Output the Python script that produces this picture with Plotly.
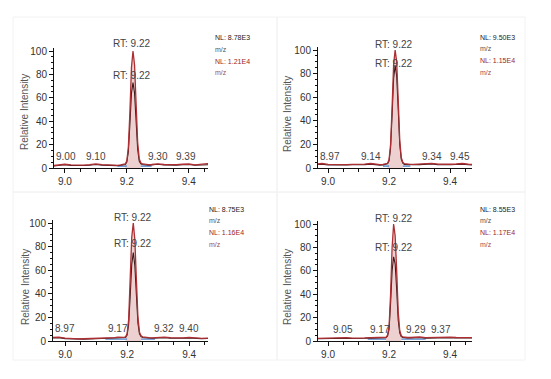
import plotly.graph_objects as go

W, H = 551, 379

# ---------------- data ----------------
time_min = [8.96, 8.98, 9.00, 9.02, 9.04, 9.06, 9.08, 9.10, 9.12, 9.14, 9.16, 9.17, 9.18, 9.19,
            9.195, 9.20, 9.205, 9.21, 9.215, 9.22, 9.225, 9.23, 9.235, 9.24, 9.245, 9.25, 9.26,
            9.27, 9.28, 9.30, 9.32, 9.34, 9.36, 9.38, 9.40, 9.42, 9.44, 9.46, 9.48]

red_1 = [2.0, 2.5, 3.2, 2.6, 2.3, 2.5, 2.8, 3.5, 2.9, 2.4, 2.2, 2.3, 2.6, 3.0,
         3.5, 6.0, 18, 48, 86, 100, 88, 55, 22, 8.0, 4.5, 3.5, 3.0,
         2.8, 3.0, 3.6, 3.0, 2.6, 2.8, 3.2, 3.4, 2.6, 3.0, 3.8, 3.2]
dark_1 = [1.5, 2.0, 2.8, 2.2, 2.0, 2.2, 2.4, 3.0, 2.5, 2.1, 1.9, 2.0, 2.3, 2.6,
          3.0, 5.0, 14, 38, 64, 73, 64, 40, 16, 6.0, 3.5, 3.0, 2.6,
          2.4, 2.6, 3.2, 2.7, 2.3, 2.5, 2.9, 3.0, 2.3, 2.7, 3.3, 2.9]

red_2 = [3.2, 3.8, 3.0, 2.8, 2.6, 2.9, 3.1, 3.0, 3.3, 3.8, 3.0, 2.8, 3.0, 3.4,
         4.0, 7.0, 20, 52, 88, 100, 90, 58, 24, 9.0, 5.0, 3.6, 3.2,
         3.0, 3.1, 3.3, 3.4, 4.0, 3.3, 3.0, 3.2, 3.4, 3.8, 3.2, 3.0]
dark_2 = [2.8, 3.3, 2.6, 2.4, 2.3, 2.5, 2.7, 2.6, 2.9, 3.3, 2.6, 2.4, 2.6, 3.0,
          3.6, 6.0, 17, 45, 76, 87, 78, 50, 20, 7.5, 4.2, 3.1, 2.8,
          2.6, 2.7, 2.9, 3.0, 3.5, 2.9, 2.6, 2.8, 3.0, 3.3, 2.8, 2.6]

red_3 = [3.0, 3.2, 2.4, 2.0, 1.8, 1.9, 2.0, 2.2, 2.4, 2.6, 2.8, 3.2, 2.8, 3.0,
         3.5, 6.0, 18, 50, 88, 100, 86, 52, 20, 7.5, 4.5, 3.5, 3.0,
         2.8, 2.7, 2.9, 3.3, 2.8, 2.6, 2.7, 3.0, 2.5, 2.3, 2.4, 2.2]
dark_3 = [2.6, 2.8, 2.0, 1.7, 1.5, 1.6, 1.7, 1.9, 2.1, 2.3, 2.4, 2.8, 2.4, 2.6,
          3.0, 5.0, 14, 38, 65, 75, 64, 39, 15, 6.0, 3.8, 3.0, 2.6,
          2.4, 2.3, 2.5, 2.9, 2.4, 2.2, 2.3, 2.6, 2.1, 2.0, 2.1, 1.9]

red_4 = [2.2, 2.4, 2.3, 2.2, 2.4, 2.8, 2.5, 2.3, 2.6, 2.8, 3.0, 3.3, 2.9, 3.2,
         5.0, 12, 40, 80, 100, 90, 60, 25, 9.0, 4.5, 3.6, 3.2, 3.0,
         3.0, 3.2, 3.4, 2.9, 3.0, 3.4, 3.8, 3.3, 3.0, 3.1, 3.2, 2.9]
dark_4 = [1.9, 2.1, 2.0, 1.9, 2.1, 2.4, 2.2, 2.0, 2.3, 2.5, 2.6, 2.9, 2.5, 2.8,
          4.2, 10, 32, 60, 72, 66, 44, 18, 7.0, 3.8, 3.1, 2.8, 2.6,
          2.6, 2.8, 3.0, 2.5, 2.6, 3.0, 3.3, 2.9, 2.6, 2.7, 2.8, 2.5]

red_series = [red_1, red_2, red_3, red_4]
dark_series = [dark_1, dark_2, dark_3, dark_4]

peak_rt_labels = ["RT: 9.22", "RT: 9.22", "RT: 9.22", "RT: 9.22"]
peak_rt = [9.22, 9.22, 9.22, 9.22]
minor_peak_rts = [[9.00, 9.10, 9.30, 9.39],
                  [8.97, 9.14, 9.34, 9.45],
                  [8.97, 9.17, 9.32, 9.40],
                  [9.05, 9.17, 9.29, 9.37]]
nl_top = ["NL: 8.78E3", "NL: 9.50E3", "NL: 8.75E3", "NL: 8.55E3"]
nl_bottom = ["NL: 1.21E4", "NL: 1.15E4", "NL: 1.16E4", "NL: 1.17E4"]
mz_label = "m/z"
y_title = "Relative Intensity"
x_tick_vals = [9.0, 9.2, 9.4]
x_tick_text = ["9.0", "9.2", "9.4"]
y_tick_vals = [0, 20, 40, 60, 80, 100]
integration_window = [[9.195, 9.245], [9.195, 9.245], [9.195, 9.245], [9.19, 9.24]]
baseline_marks = [[[9.17, 9.20], [9.245, 9.28]],
                  [[9.18, 9.20], [9.245, 9.27]],
                  [[9.13, 9.20], [9.245, 9.29]],
                  [[9.13, 9.19], [9.24, 9.32]]]

# ---------------- layout geometry (pixels) ----------------
panels = [
    dict(px=(54, 208), py=(168, 47.5), xr=[8.965, 9.462], rt_y=(106, 79), lab_y=10,
         nl_x=213, nl_y=37.5, ytitle=(25, 112), box=(13, 17, 277, 192)),
    dict(px=(318, 472), py=(168, 46.5), xr=[8.967, 9.472], rt_y=(105, 89), lab_y=10,
         nl_x=478, nl_y=37, ytitle=(287, 114), box=(277, 17, 525, 192)),
    dict(px=(53, 208), py=(341, 219.5), xr=[8.961, 9.461], rt_y=(105, 83), lab_y=11,
         nl_x=207, nl_y=209, ytitle=(25, 287), box=(13, 192, 277, 360)),
    dict(px=(318, 472), py=(341, 220.5), xr=[8.967, 9.472], rt_y=(105, 80), lab_y=10,
         nl_x=478, nl_y=209, ytitle=(287, 287), box=(277, 192, 525, 360)),
]

RED = "#ad2f33"
DARK = "#3b1a1c"
FILL = "rgba(214,150,150,0.45)"
BLUE = "rgba(70,125,200,0.75)"
TXT = "#444444"
FONT = "Liberation Sans, Arial, sans-serif"
YTOP = 103

fig = go.Figure()
annotations = []
shapes = []
layout_axes = {}

for i, p in enumerate(panels):
    n = i + 1
    xa = "x" if n == 1 else f"x{n}"
    ya = "y" if n == 1 else f"y{n}"
    t = time_min
    red = red_series[i]
    dark = dark_series[i]

    w0, w1 = integration_window[i]
    fx = [tt for tt in t if w0 <= tt <= w1]
    fy = [v for tt, v in zip(t, red) if w0 <= tt <= w1]
    fig.add_trace(go.Scatter(x=fx, y=fy, mode="lines", line=dict(width=0),
                             fill="tozeroy", fillcolor=FILL, xaxis=xa, yaxis=ya,
                             showlegend=False, hoverinfo="skip"))
    for seg in baseline_marks[i]:
        fig.add_trace(go.Scatter(x=seg, y=[1.6, 1.6], mode="lines",
                                 line=dict(color=BLUE, width=1.6),
                                 xaxis=xa, yaxis=ya, showlegend=False, hoverinfo="skip"))
    fig.add_trace(go.Scatter(x=t, y=dark, mode="lines", line=dict(color=DARK, width=1.1),
                             xaxis=xa, yaxis=ya, showlegend=False))
    fig.add_trace(go.Scatter(x=t, y=red, mode="lines", line=dict(color=RED, width=1.3),
                             xaxis=xa, yaxis=ya, showlegend=False))

    x0, x1 = p["px"]
    yb, yt = p["py"]
    key_x = "xaxis" if n == 1 else f"xaxis{n}"
    key_y = "yaxis" if n == 1 else f"yaxis{n}"
    layout_axes[key_x] = dict(
        domain=[x0 / W, x1 / W], range=p["xr"], anchor=ya, automargin=False,
        showline=True, linecolor="#111", linewidth=1, ticks="outside", ticklen=4,
        tickcolor="#111", tickvals=x_tick_vals, ticktext=x_tick_text,
        minor=dict(dtick=0.05, tick0=9.0, ticks="outside", ticklen=2.5, tickcolor="#111"),
        showgrid=False, zeroline=False,
        tickfont=dict(family=FONT, size=10, color="#333"),
    )
    layout_axes[key_y] = dict(
        domain=[1 - yb / H, 1 - yt / H], range=[0, YTOP], anchor=xa, automargin=False,
        showline=True, linecolor="#111", linewidth=1, ticks="outside", ticklen=4,
        tickcolor="#111", tickvals=y_tick_vals,
        minor=dict(dtick=5, tick0=0, ticks="outside", ticklen=2, tickcolor="#111"),
        showgrid=False, zeroline=False,
        tickfont=dict(family=FONT, size=10, color="#333"),
    )

    def px_x(v):
        return (x0 + (v - p["xr"][0]) / (p["xr"][1] - p["xr"][0]) * (x1 - x0)) / W

    def px_y(v):
        return 1 - (yb - v / YTOP * (yb - yt)) / H

    for yv in p["rt_y"]:
        annotations.append(dict(x=px_x(peak_rt[i] - 0.004), y=px_y(yv), xref="paper", yref="paper",
                                text=peak_rt_labels[i], showarrow=False,
                                font=dict(family=FONT, size=10, color=TXT),
                                xanchor="center", yanchor="middle"))
    xr = p["xr"]
    for rt in minor_peak_rts[i]:
        xpos = min(max(rt, xr[0] + 0.04), xr[1] - 0.04)
        annotations.append(dict(x=px_x(xpos), y=px_y(p["lab_y"]), xref="paper", yref="paper",
                                text=f"{rt:.2f}", showarrow=False,
                                font=dict(family=FONT, size=10, color=TXT),
                                xanchor="center", yanchor="middle"))
    lines = [(nl_top[i], "#222"), (mz_label, "#555"), (nl_bottom[i], "#9c1f25"), (mz_label, "#9c5055")]
    for k, (txt, col) in enumerate(lines):
        annotations.append(dict(x=p["nl_x"] / W, y=1 - (p["nl_y"] + 11.8 * k) / H,
                                xref="paper", yref="paper", text=txt, showarrow=False,
                                font=dict(family=FONT, size=7, color=col),
                                xanchor="left", yanchor="middle"))
    tx, ty = p["ytitle"]
    annotations.append(dict(x=tx / W, y=1 - ty / H, xref="paper", yref="paper", text=y_title,
                            showarrow=False, textangle=-90,
                            font=dict(family=FONT, size=10, color="#555"),
                            xanchor="center", yanchor="middle"))
    bx0, by0, bx1, by1 = p["box"]
    shapes.append(dict(type="rect", xref="paper", yref="paper",
                       x0=bx0 / W, x1=bx1 / W, y0=1 - by1 / H, y1=1 - by0 / H,
                       line=dict(color="#f2f2f2", width=1), layer="below"))

fig.update_layout(
    width=W, height=H, margin=dict(l=0, r=0, t=0, b=0),
    paper_bgcolor="white", plot_bgcolor="white",
    annotations=annotations, shapes=shapes, showlegend=False,
    **layout_axes,
)

fig.write_html(
    "out.html",
    config={"displayModeBar": False},
    post_script="document.body.style.margin='0';document.body.style.overflow='hidden';",
)
